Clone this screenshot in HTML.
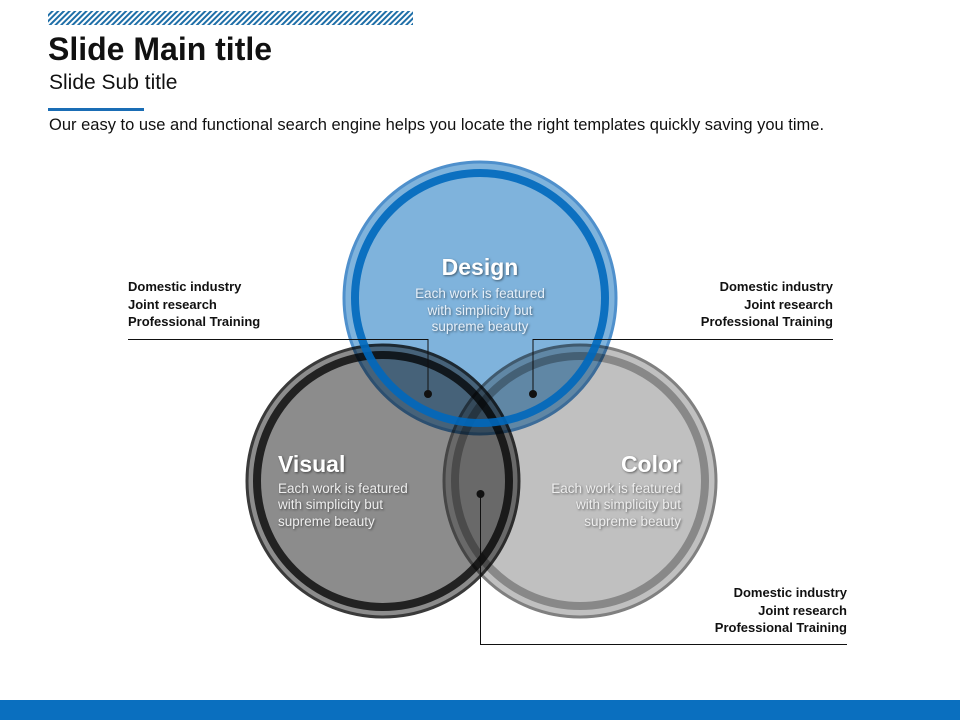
<!DOCTYPE html>
<html><head><meta charset="utf-8"><style>
body{margin:0;width:960px;height:720px;background:#fff;position:relative;overflow:hidden;font-family:"Liberation Sans",sans-serif}
.t{position:absolute;margin:0;white-space:nowrap}
.m{mix-blend-mode:multiply}
</style></head><body>
<svg width="960" height="720" style="position:absolute;left:0;top:0;isolation:isolate">
<defs>
<pattern id="h" width="4" height="4" patternUnits="userSpaceOnUse" patternTransform="rotate(45)">
<rect width="2" height="4" fill="#1f6fa8"/></pattern>
</defs>
<rect x="48" y="11" width="365" height="14" fill="url(#h)"/>
<rect x="48" y="108" width="96" height="3" fill="#1a6db5"/>
<rect x="0" y="700" width="960" height="20" fill="#0a6fbf"/>

<g class="m">
<circle cx="383" cy="481" r="136" fill="#8c8c8c" stroke="#3a3a3a" stroke-width="3"/>
<circle cx="383" cy="481" r="126" fill="none" stroke="#222" stroke-width="8"/>
</g>
<g class="m">
<circle cx="580" cy="481" r="136" fill="#c0c0c0" stroke="#808080" stroke-width="3"/>
<circle cx="580" cy="481" r="125" fill="none" stroke="#888" stroke-width="8"/>
</g>
<circle class="m" cx="480" cy="298" r="136" fill="#7fb3dc" stroke="#4f90cc" stroke-width="3"/>
<circle cx="480" cy="298" r="125" fill="none" stroke="#0068bd" stroke-width="8" stroke-opacity="0.9"/>

<g stroke="#111" stroke-width="1" fill="none">
<polyline points="128,339.5 428,339.5 428,394"/>
<polyline points="833,339.5 533,339.5 533,394"/>
<polyline points="480.5,494 480.5,644.5 847,644.5"/>
</g>
<g fill="#111"><circle cx="428" cy="394" r="4"/><circle cx="533" cy="394" r="4"/><circle cx="480.5" cy="494" r="4"/></g>

<g font-family="Liberation Sans,sans-serif" fill="#fff" style="text-shadow:1px 1px 2px rgba(0,0,0,.5)">
<text x="480" y="275" text-anchor="middle" font-size="23" font-weight="bold">Design</text>
<text x="480" y="298" text-anchor="middle" font-size="13.5" fill="#e6f0fa">Each work is featured</text>
<text x="480" y="315" text-anchor="middle" font-size="13.5" fill="#e6f0fa">with simplicity but</text>
<text x="480" y="331" text-anchor="middle" font-size="13.5" fill="#e6f0fa">supreme beauty</text>
<text x="278" y="472" font-size="23" font-weight="bold">Visual</text>
<text x="278" y="493" font-size="13.5" fill="#eee">Each work is featured</text>
<text x="278" y="509" font-size="13.5" fill="#eee">with simplicity but</text>
<text x="278" y="526" font-size="13.5" fill="#eee">supreme beauty</text>
<text x="681" y="472" text-anchor="end" font-size="23" font-weight="bold">Color</text>
<text x="681" y="493" text-anchor="end" font-size="13.5" fill="#eee">Each work is featured</text>
<text x="681" y="509" text-anchor="end" font-size="13.5" fill="#eee">with simplicity but</text>
<text x="681" y="526" text-anchor="end" font-size="13.5" fill="#eee">supreme beauty</text>
</g>
<g font-family="Liberation Sans,sans-serif" font-size="13" font-weight="bold" fill="#111">
<text x="128" y="291">Domestic industry</text><text x="128" y="309">Joint research</text><text x="128" y="326">Professional Training</text>
<text x="833" y="291" text-anchor="end">Domestic industry</text><text x="833" y="309" text-anchor="end">Joint research</text><text x="833" y="326" text-anchor="end">Professional Training</text>
<text x="847" y="597" text-anchor="end">Domestic industry</text><text x="847" y="615" text-anchor="end">Joint research</text><text x="847" y="632" text-anchor="end">Professional Training</text>
</g>
</svg>
<div class="t" style="left:48px;top:31px;font-size:32px;font-weight:bold;color:#111">Slide Main title</div>
<div class="t" style="left:49px;top:71px;font-size:21px;color:#111">Slide Sub title</div>
<div class="t" style="left:49px;top:116px;font-size:16.5px;color:#111">Our easy to use and functional search engine helps you locate the right templates quickly saving you time.</div>
</body></html>
